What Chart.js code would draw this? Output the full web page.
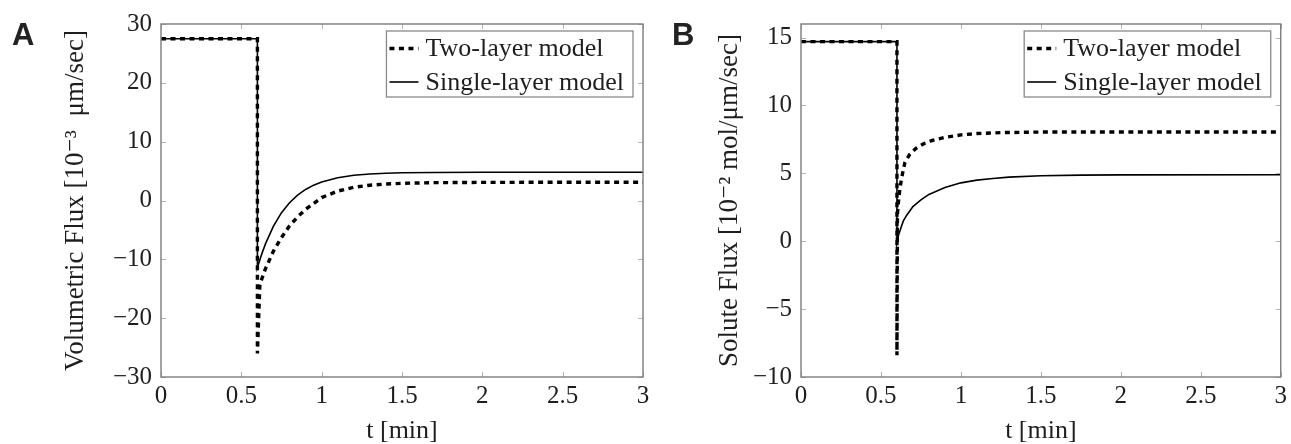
<!DOCTYPE html>
<html>
<head>
<meta charset="utf-8">
<script src="https://cdn.jsdelivr.net/npm/chart.js@4.4.1/dist/chart.umd.min.js"></script>
<style>
  html, body { margin: 0; padding: 0; background: #fff; }
  #wrap { position: relative; width: 1291px; height: 444px; overflow: hidden; }
  canvas { position: absolute; top: 0; }
</style>
</head>
<body>
<div id="wrap">
  <canvas id="chartA" width="660" height="444" style="left:0"></canvas>
  <canvas id="chartB" width="631" height="444" style="left:660px"></canvas>
</div>
<script>
// series names
const seriesNames = ['Two-layer model', 'Single-layer model'];

// x ticks (t [min])
const xTicks = [0, 0.5, 1, 1.5, 2, 2.5, 3];

// panel A: volumetric flux
const yTicksA = [-30, -20, -10, 0, 10, 20, 30];
const twoLayerTimeA = [0, 0.6, 0.6, 0.615, 0.62, 0.65, 0.7, 0.75, 0.8, 0.85, 0.9, 0.95, 1.0, 1.1, 1.2, 1.3, 1.4, 1.5, 1.7, 2.0, 2.5, 3.0];
const twoLayerFluxA = [27.5, 27.5, -26, -14.5, -13.9, -11.6, -8.6, -6.3, -4.3, -2.8, -1.5, -0.5, 0.5, 1.6, 2.25, 2.6, 2.8, 2.92, 3.03, 3.08, 3.1, 3.1];
const singleTimeA = [0, 0.6, 0.6, 0.625, 0.65, 0.7, 0.75, 0.8, 0.85, 0.9, 0.95, 1.0, 1.1, 1.2, 1.3, 1.4, 1.5, 1.7, 2.0, 3.0];
const singleFluxA = [27.5, 27.5, -11.4, -9.25, -7.37, -4.35, -2.07, -0.37, 0.92, 1.88, 2.61, 3.15, 3.87, 4.28, 4.5, 4.63, 4.71, 4.77, 4.8, 4.8];

// panel B: solute flux
const yTicksB = [-10, -5, 0, 5, 10, 15];
const twoLayerTimeB = [0, 0.6, 0.6, 0.603, 0.61, 0.62, 0.635, 0.65, 0.68, 0.72, 0.77, 0.82, 0.9, 1.0, 1.1, 1.25, 1.5, 2.0, 3.0];
const twoLayerFluxB = [14.7, 14.7, -8.4, 2.0, 3.0, 4.0, 5.0, 5.8, 6.4, 6.85, 7.2, 7.42, 7.65, 7.83, 7.93, 8.0, 8.04, 8.05, 8.05];
const singleTimeB = [0, 0.6, 0.6, 0.61, 0.625, 0.64, 0.66, 0.7, 0.75, 0.8, 0.9, 1.0, 1.1, 1.2, 1.3, 1.5, 1.75, 2.0, 3.0];
const singleFluxB = [14.7, 14.7, -0.1, 0.45, 1.0, 1.5, 1.9, 2.55, 3.05, 3.45, 3.95, 4.3, 4.5, 4.62, 4.72, 4.82, 4.87, 4.89, 4.9];

const SERIF = '"Liberation Serif", "DejaVu Serif", serif';
const INK = '#1e1e1e';

function pairs(xs, ys) {
    return xs.map((x, i) => ({ x: x, y: ys[i] }));
}

function minusSign(v) {
    return v < 0 ? '\u2212' + Math.abs(v) : String(v);
}

// frame, inner tick marks, legend box and panel letter
const framePlugin = {
    id: 'frame',
    afterDatasetsDraw(chart, args, opts) {
        const ctx = chart.ctx;
        const a = chart.chartArea;
        const xs = chart.scales.x, ys = chart.scales.y;
        ctx.save();

        // small ticks pointing inward, on all four sides
        ctx.strokeStyle = '#b4b4b4';
        ctx.lineWidth = 1;
        ctx.beginPath();
        xs.ticks.forEach(t => {
            const px = Math.round(xs.getPixelForValue(t.value)) + 0.5;
            ctx.moveTo(px, a.bottom); ctx.lineTo(px, a.bottom - 5);
            ctx.moveTo(px, a.top); ctx.lineTo(px, a.top + 5);
        });
        ys.ticks.forEach(t => {
            const py = Math.round(ys.getPixelForValue(t.value)) + 0.5;
            ctx.moveTo(a.left, py); ctx.lineTo(a.left + 5, py);
            ctx.moveTo(a.right, py); ctx.lineTo(a.right - 5, py);
        });
        ctx.stroke();

        ctx.strokeStyle = '#7c7c7c';
        ctx.lineWidth = 1.4;
        ctx.strokeRect(a.left, a.top, a.right - a.left, a.bottom - a.top);

        // legend
        ctx.font = '26px ' + SERIF;
        const textW = Math.max(...seriesNames.map(s => ctx.measureText(s).width));
        const boxW = 39 + textW + 9;
        const boxH = 66;
        const bx = a.right - 10 - boxW;
        const by = a.top + 7;
        ctx.fillStyle = '#fff';
        ctx.fillRect(bx, by, boxW, boxH);
        ctx.strokeStyle = '#8a8a8a';
        ctx.lineWidth = 1.3;
        ctx.strokeRect(bx, by, boxW, boxH);

        const rows = [by + 17.5, by + 51];
        chart.data.datasets.forEach((ds, i) => {
            ctx.strokeStyle = ds.borderColor;
            ctx.lineWidth = ds.borderWidth;
            ctx.setLineDash(ds.borderDash || []);
            ctx.beginPath();
            ctx.moveTo(bx + 3, rows[i]);
            ctx.lineTo(bx + 32, rows[i]);
            ctx.stroke();
            ctx.setLineDash([]);
            ctx.fillStyle = INK;
            ctx.textBaseline = 'middle';
            ctx.textAlign = 'left';
            ctx.fillText(ds.label, bx + 39, rows[i] + 1);
        });

        // panel letter
        ctx.fillStyle = '#222';
        ctx.font = 'bold 31px "Liberation Sans", Arial, sans-serif';
        ctx.textBaseline = 'alphabetic';
        ctx.fillText(opts.letter, 12, 45);

        ctx.restore();
    }
};

function makeChart(id, cfg) {
    const ctx = document.getElementById(id).getContext('2d');
    return new Chart(ctx, {
        type: 'scatter',
        data: {
            datasets: [{
                label: seriesNames[0],
                data: pairs(cfg.twoT, cfg.twoY),
                showLine: true,
                borderColor: '#000',
                borderWidth: 3.4,
                borderDash: [5, 4.5],
                pointRadius: 0,
                tension: 0
            }, {
                label: seriesNames[1],
                data: pairs(cfg.oneT, cfg.oneY),
                showLine: true,
                borderColor: '#000',
                borderWidth: 1.6,
                pointRadius: 0,
                tension: 0
            }]
        },
        options: {
            responsive: false,
            animation: false,
            devicePixelRatio: 1,
            layout: {
                padding: { top: 22, right: cfg.padRight, left: 0, bottom: 0 }
            },
            scales: {
                x: {
                    type: 'linear',
                    min: 0,
                    max: 3,
                    afterBuildTicks: s => { s.ticks = xTicks.map(v => ({ value: v })); },
                    afterFit: s => { s.height = 67; },
                    grid: { display: false, drawTicks: false },
                    border: { display: false },
                    ticks: {
                        padding: 4,
                        color: INK,
                        font: { family: SERIF, size: 25 },
                        maxRotation: 0,
                        autoSkip: false,
                        callback: v => String(v)
                    },
                    title: {
                        display: true,
                        text: 't [min]',
                        color: INK,
                        font: { family: SERIF, size: 26, lineHeight: 1 },
                        padding: 0
                    }
                },
                y: {
                    type: 'linear',
                    min: cfg.yMin,
                    max: cfg.yMax,
                    afterBuildTicks: s => { s.ticks = cfg.yTicks.map(v => ({ value: v })); },
                    afterFit: s => { s.width = cfg.yWidth; },
                    grid: { display: false, drawTicks: false },
                    border: { display: false },
                    ticks: {
                        padding: 9,
                        color: INK,
                        font: { family: SERIF, size: 25 },
                        autoSkip: false,
                        callback: v => minusSign(v)
                    },
                    title: {
                        display: true,
                        text: cfg.yTitle,
                        color: INK,
                        font: { family: SERIF, size: 27, lineHeight: 1 },
                        padding: { top: cfg.titlePad, bottom: 0 }
                    }
                }
            },
            plugins: {
                legend: { display: false },
                tooltip: { enabled: false },
                frame: { letter: cfg.letter }
            }
        },
        plugins: [framePlugin]
    });
}

makeChart('chartA', {
    letter: 'A',
    twoT: twoLayerTimeA, twoY: twoLayerFluxA,
    oneT: singleTimeA, oneY: singleFluxA,
    yMin: -30, yMax: 30, yTicks: yTicksA,
    yTitle: 'Volumetric Flux [10\u207B\u00B3  \u03BCm/sec]',
    yWidth: 161, padRight: 17, titlePad: 62
});

makeChart('chartB', {
    letter: 'B',
    twoT: twoLayerTimeB, twoY: twoLayerFluxB,
    oneT: singleTimeB, oneY: singleFluxB,
    yMin: -10, yMax: 16, yTicks: yTicksB,
    yTitle: 'Solute Flux [10\u207B\u00B2 mol/\u03BCm/sec]',
    yWidth: 141, padRight: 8, titlePad: 56
});
</script>
</body>
</html>
